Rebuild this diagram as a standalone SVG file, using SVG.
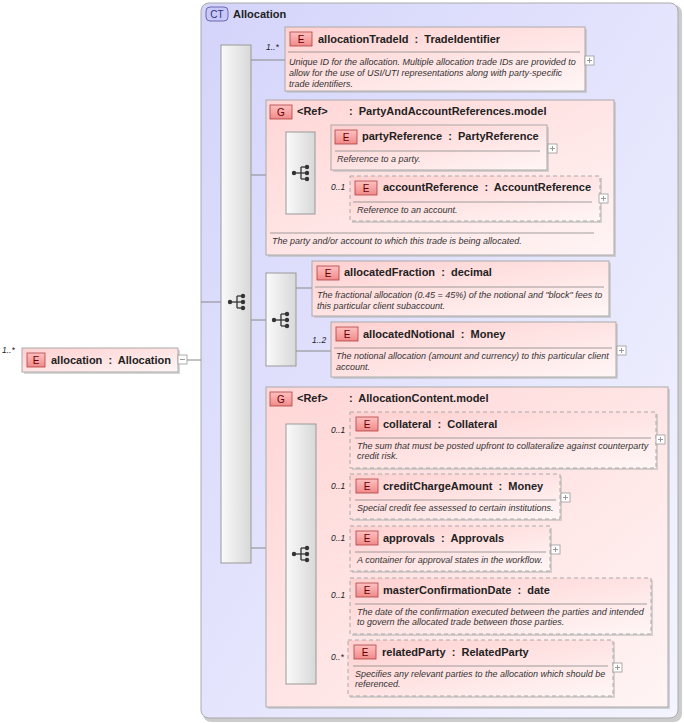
<svg xmlns="http://www.w3.org/2000/svg" width="684" height="723" viewBox="0 0 684 723">
<defs>
<linearGradient id="ct" x1="0" y1="0" x2="1" y2="1"><stop offset="0" stop-color="#d4d4fb"/><stop offset="1" stop-color="#f4f4ff"/></linearGradient>
<linearGradient id="el" x1="0" y1="0" x2="1" y2="1"><stop offset="0" stop-color="#ffd0d0"/><stop offset="1" stop-color="#fff6f6"/></linearGradient>
<linearGradient id="grp" x1="0" y1="0" x2="1" y2="1"><stop offset="0" stop-color="#ffd6d6"/><stop offset="1" stop-color="#fff4f4"/></linearGradient>
<linearGradient id="bar" x1="0" y1="0" x2="1" y2="0"><stop offset="0" stop-color="#fafafa"/><stop offset="1" stop-color="#d8d8d8"/></linearGradient>
<linearGradient id="badge" x1="0" y1="0" x2="0" y2="1"><stop offset="0" stop-color="#ffc0c0"/><stop offset="1" stop-color="#f08a8a"/></linearGradient>
<g id="seq" stroke="#333" stroke-width="1.3" fill="#333">
<line x1="-7" y1="0" x2="0" y2="0"/><line x1="0" y1="-6" x2="0" y2="6"/>
<line x1="0" y1="-6" x2="6" y2="-6"/><line x1="0" y1="0" x2="6" y2="0"/><line x1="0" y1="6" x2="6" y2="6"/>
<circle cx="-7" cy="0" r="2.2" stroke="none"/><circle cx="6" cy="-6" r="2.2" stroke="none"/><circle cx="6" cy="0" r="2.2" stroke="none"/><circle cx="6" cy="6" r="2.2" stroke="none"/>
</g>
<g id="plus"><rect x="0" y="0" width="9" height="9" fill="#fff" stroke="#999" stroke-width="0.8"/><line x1="2" y1="4.5" x2="7" y2="4.5" stroke="#999"/><line x1="4.5" y1="2" x2="4.5" y2="7" stroke="#999"/></g>
</defs>
<style>
text{font-family:"Liberation Sans",Arial,sans-serif;fill:#222;white-space:pre}
.name{font-size:11px;font-weight:bold}
.desc{font-size:9px;font-style:italic;fill:#333}
.occ{font-size:8.5px;font-style:italic}
.el{fill:url(#el);stroke:#aaa;stroke-width:1}
.opt{fill:url(#el);stroke:#aaa;stroke-width:1;stroke-dasharray:4 3}
.grp{fill:url(#grp);stroke:#aaa;stroke-width:1}
.bar{fill:url(#bar);stroke:#999;stroke-width:1}
.sh{fill:#bbb;opacity:0.6}
.badge{fill:url(#badge);stroke:#b04040;stroke-width:0.8}
.bt{font-size:10px;fill:#600;text-anchor:middle}
.sep{stroke:#888;stroke-width:0.8}
.con line{stroke:#888;stroke-width:1}
</style>

<g id="ct-allocation">
<rect x="203" y="5" width="479" height="717" rx="8" fill="#ccc"/>
<rect x="201" y="3" width="477" height="715" rx="8" fill="url(#ct)" stroke="#aaa"/>
<rect x="206" y="7" width="22" height="14" rx="4" fill="#c8c8f8" stroke="#5050a0" stroke-width="0.8"/>
<text x="217" y="18" class="bt" style="fill:#303080">CT</text>
<text x="233" y="18" class="name">Allocation</text>
</g>

<g class="con">
<line x1="187" y1="360" x2="201" y2="360"/>
<line x1="201" y1="302" x2="221" y2="302"/>
<line x1="251" y1="60" x2="285" y2="60"/>
<line x1="251" y1="175" x2="266" y2="175"/>
<line x1="251" y1="320" x2="266" y2="320"/>
<line x1="251" y1="548" x2="266" y2="548"/>
<line x1="266" y1="173" x2="286" y2="173"/>
<line x1="315" y1="147" x2="331" y2="147"/>
<line x1="315" y1="198" x2="350" y2="198"/>
<line x1="296" y1="288" x2="312" y2="288"/>
<line x1="296" y1="351" x2="331" y2="351"/>
<line x1="266" y1="554" x2="286" y2="554"/>
<line x1="316" y1="440" x2="350" y2="440"/>
<line x1="316" y1="496" x2="350" y2="496"/>
<line x1="316" y1="548" x2="350" y2="548"/>
<line x1="316" y1="606" x2="350" y2="606"/>
<line x1="316" y1="668" x2="348" y2="668"/>
</g>

<g id="allocation">
<text x="2" y="353" class="occ">1..*</text>
<rect x="24" y="350" width="156" height="24" class="sh"/>
<rect x="22" y="348" width="156" height="24" class="el"/>
<rect x="27" y="353" width="18" height="14" class="badge"/><text x="36" y="364" class="bt">E</text>
<text x="51" y="364" class="name">allocation  :  Allocation</text>
<rect x="178" y="355" width="9" height="9" fill="#fff" stroke="#999" stroke-width="0.8"/><line x1="180" y1="359.5" x2="185" y2="359.5" stroke="#999"/>
</g>

<g id="main-seq">
<rect x="221" y="45" width="30" height="518" class="bar"/>
<use href="#seq" x="237" y="302"/>
</g>

<g id="allocationTradeId">
<text x="266" y="50" class="occ">1..*</text>
<rect x="287" y="29" width="300" height="64" class="sh"/>
<rect x="285" y="27" width="300" height="64" class="el"/>
<rect x="290" y="32" width="22" height="14" class="badge"/><text x="301" y="43" class="bt">E</text>
<text x="318" y="43" class="name">allocationTradeId  :  TradeIdentifier</text>
<line x1="288" y1="52" x2="580" y2="52" class="sep"/>
<text x="289" y="65" class="desc">Unique ID for the allocation. Multiple allocation trade IDs are provided to</text>
<text x="289" y="76" class="desc">allow for the use of USI/UTI representations along with party-specific</text>
<text x="289" y="87" class="desc">trade identifiers.</text>
<use href="#plus" x="585" y="56"/>
</g>

<g id="PartyAndAccountReferences">
<rect x="268" y="102" width="348" height="155" class="sh"/>
<rect x="266" y="100" width="348" height="155" class="grp"/>
<rect x="270" y="105" width="22" height="14" class="badge"/><text x="281" y="116" class="bt">G</text>
<text x="297" y="115" class="name">&lt;Ref&gt;</text>
<text x="349" y="115" class="name">:  PartyAndAccountReferences.model</text>
<rect x="286" y="132" width="29" height="82" class="bar"/>
<use href="#seq" x="301" y="173"/>
<line x1="270" y1="233" x2="594" y2="233" class="sep"/>
<text x="272" y="244" class="desc">The party and/or account to which this trade is being allocated.</text>
</g>

<g id="partyReference">
<rect x="333" y="127" width="216" height="45" class="sh"/>
<rect x="331" y="125" width="216" height="45" class="el"/>
<rect x="335" y="130" width="22" height="14" class="badge"/><text x="346" y="141" class="bt">E</text>
<text x="362" y="140" class="name">partyReference  :  PartyReference</text>
<line x1="335" y1="151" x2="540" y2="151" class="sep"/>
<text x="337" y="162" class="desc">Reference to a party.</text>
<use href="#plus" x="548" y="144"/>
</g>

<g id="accountReference">
<text x="331" y="190" class="occ">0..1</text>
<rect x="352" y="178" width="250" height="45" class="sh"/>
<rect x="350" y="176" width="250" height="45" class="opt"/>
<rect x="355" y="181" width="22" height="14" class="badge"/><text x="366" y="192" class="bt">E</text>
<text x="383" y="191" class="name">accountReference  :  AccountReference</text>
<line x1="353" y1="202" x2="592" y2="202" class="sep"/>
<text x="357" y="213" class="desc">Reference to an account.</text>
<use href="#plus" x="599" y="194"/>
</g>

<g id="choice">
<rect x="266" y="273" width="30" height="93" class="bar"/>
<use href="#seq" x="281" y="320"/>
</g>

<g id="allocatedFraction">
<rect x="314" y="263" width="297" height="55" class="sh"/>
<rect x="312" y="261" width="297" height="55" class="el"/>
<rect x="317" y="266" width="22" height="14" class="badge"/><text x="328" y="277" class="bt">E</text>
<text x="344" y="276" class="name">allocatedFraction  :  decimal</text>
<line x1="315" y1="287" x2="604" y2="287" class="sep"/>
<text x="317" y="298" class="desc">The fractional allocation (0.45 = 45%) of the notional and "block" fees to</text>
<text x="317" y="309" class="desc">this particular client subaccount.</text>
</g>

<g id="allocatedNotional">
<text x="312" y="343" class="occ">1..2</text>
<rect x="333" y="324" width="285" height="55" class="sh"/>
<rect x="331" y="322" width="285" height="55" class="el"/>
<rect x="336" y="327" width="22" height="14" class="badge"/><text x="347" y="338" class="bt">E</text>
<text x="363" y="338" class="name">allocatedNotional  :  Money</text>
<line x1="334" y1="348" x2="612" y2="348" class="sep"/>
<text x="336" y="359" class="desc">The notional allocation (amount and currency) to this particular client</text>
<text x="336" y="370" class="desc">account.</text>
<use href="#plus" x="617" y="346"/>
</g>

<g id="AllocationContent">
<rect x="268" y="389" width="402" height="320" class="sh"/>
<rect x="266" y="387" width="402" height="320" class="grp"/>
<rect x="270" y="392" width="22" height="14" class="badge"/><text x="281" y="403" class="bt">G</text>
<text x="297" y="402" class="name">&lt;Ref&gt;</text>
<text x="349" y="402" class="name">:  AllocationContent.model</text>
<rect x="286" y="424" width="30" height="260" class="bar"/>
<use href="#seq" x="301" y="554"/>
</g>

<g id="collateral">
<text x="331" y="433" class="occ">0..1</text>
<rect x="352" y="414" width="306" height="56" class="sh"/>
<rect x="350" y="412" width="306" height="56" class="opt"/>
<rect x="356" y="417" width="22" height="14" class="badge"/><text x="367" y="428" class="bt">E</text>
<text x="383" y="428" class="name">collateral  :  Collateral</text>
<line x1="355" y1="438" x2="651" y2="438" class="sep"/>
<text x="357" y="449" class="desc">The sum that must be posted upfront to collateralize against counterparty</text>
<text x="357" y="459" class="desc">credit risk.</text>
<use href="#plus" x="656" y="435"/>
</g>

<g id="creditChargeAmount">
<text x="331" y="489" class="occ">0..1</text>
<rect x="352" y="476" width="210" height="45" class="sh"/>
<rect x="350" y="474" width="210" height="45" class="opt"/>
<rect x="356" y="479" width="22" height="14" class="badge"/><text x="367" y="490" class="bt">E</text>
<text x="383" y="490" class="name">creditChargeAmount  :  Money</text>
<line x1="355" y1="500" x2="556" y2="500" class="sep"/>
<text x="357" y="511" class="desc">Special credit fee assessed to certain institutions.</text>
<use href="#plus" x="561" y="493"/>
</g>

<g id="approvals">
<text x="331" y="541" class="occ">0..1</text>
<rect x="352" y="528" width="200" height="45" class="sh"/>
<rect x="350" y="526" width="200" height="45" class="opt"/>
<rect x="356" y="531" width="22" height="14" class="badge"/><text x="367" y="542" class="bt">E</text>
<text x="383" y="542" class="name">approvals  :  Approvals</text>
<line x1="355" y1="552" x2="546" y2="552" class="sep"/>
<text x="357" y="563" class="desc">A container for approval states in the workflow.</text>
<use href="#plus" x="551" y="545"/>
</g>

<g id="masterConfirmationDate">
<text x="331" y="598" class="occ">0..1</text>
<rect x="352" y="580" width="301" height="56" class="sh"/>
<rect x="350" y="578" width="301" height="56" class="opt"/>
<rect x="356" y="583" width="22" height="14" class="badge"/><text x="367" y="594" class="bt">E</text>
<text x="383" y="594" class="name">masterConfirmationDate  :  date</text>
<line x1="355" y1="604" x2="647" y2="604" class="sep"/>
<text x="357" y="615" class="desc">The date of the confirmation executed between the parties and intended</text>
<text x="357" y="625" class="desc">to govern the allocated trade between those parties.</text>
</g>

<g id="relatedParty">
<text x="331" y="660" class="occ">0..*</text>
<rect x="350" y="642" width="265" height="56" class="sh"/>
<rect x="348" y="640" width="265" height="56" class="opt"/>
<rect x="354" y="645" width="22" height="14" class="badge"/><text x="365" y="656" class="bt">E</text>
<text x="382" y="656" class="name">relatedParty  :  RelatedParty</text>
<line x1="353" y1="666" x2="608" y2="666" class="sep"/>
<text x="355" y="677" class="desc">Specifies any relevant parties to the allocation which should be</text>
<text x="355" y="687" class="desc">referenced.</text>
<use href="#plus" x="613" y="663"/>
</g>
</svg>
